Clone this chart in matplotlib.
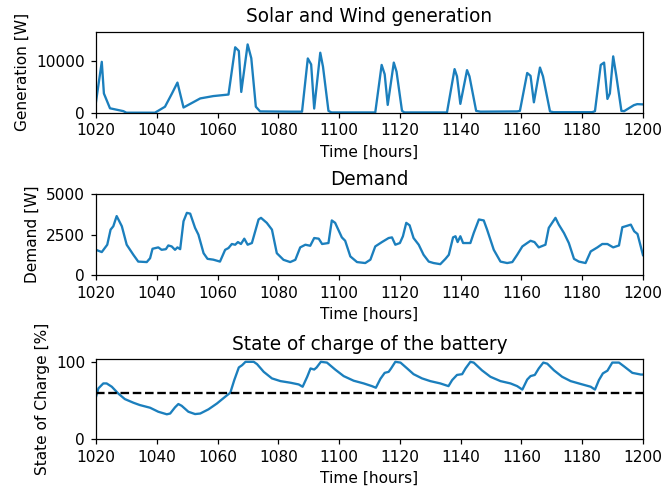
import matplotlib
matplotlib.use("Agg")
import matplotlib.pyplot as plt

line_color = "#1b7fbd"

# Solar + wind generation [W]
gen_hours = [1020, 1021.9, 1022.6, 1024.6, 1029, 1030, 1039.4, 1042.7, 1045, 1046.8,
             1048.8, 1054.3, 1058.6, 1063.6, 1065.8, 1067, 1067.8, 1069.9, 1071.1, 1072.6,
             1074, 1084, 1087.8, 1089.7, 1090.8, 1091.8, 1093.8, 1094.7, 1096.5, 1097.5,
             1111.9, 1114.0, 1115, 1116, 1118, 1118.9, 1120.7, 1121.5, 1135.5, 1138,
             1138.8, 1139.9, 1142.1, 1142.9, 1145.1, 1146.5, 1158.6, 1159.5, 1161.9, 1163,
             1164.1, 1166.1, 1167.1, 1169.4, 1170.5, 1183.3, 1184.2, 1186.1, 1187.2, 1188.3,
             1189.1, 1190.2, 1191.2, 1192.9, 1193.8, 1197, 1198.1, 1200]
gen_values = [2100, 9800, 3700, 850, 300, 0, 0, 1150, 3700, 5800,
              1000, 2750, 3200, 3500, 12600, 11900, 4000, 13150, 10500, 1150,
              250, 200, 200, 10450, 9300, 800, 11550, 8850, 350, 50,
              50, 9200, 7400, 1500, 9650, 7900, 350, 50, 50, 8400,
              7000, 1700, 8200, 7000, 350, 200, 250, 350, 7650, 7100,
              2000, 8700, 7000, 250, 100, 100, 300, 9200, 9650, 2650,
              3700, 10850, 7200, 350, 300, 1450, 1650, 1600]

# Demand [W]
dem_hours = [1020, 1021.9, 1023.7, 1024.8, 1025.7, 1026.8, 1028.5, 1030.1, 1032.3, 1033.9,
             1036.7, 1037.8, 1038.6, 1040.5, 1041.6, 1043, 1043.8, 1044.9, 1046, 1046.8,
             1047.7, 1048.8, 1049.9, 1051, 1052.6, 1053.7, 1055.4, 1056.7, 1058.6, 1060.8,
             1062.5, 1063.6, 1064.7, 1065.8, 1066.7, 1067.7, 1068.8, 1069.9, 1071.3, 1072.4,
             1073.5, 1074.3, 1076.2, 1077.9, 1079.5, 1081.7, 1083.9, 1085.6, 1087.2, 1088.9,
             1090.5, 1091.8, 1093.3, 1094.4, 1096.5, 1097.6, 1098.7, 1100.9, 1102, 1103.7,
             1105.9, 1108.6, 1110.3, 1111.9, 1114.1, 1116.3, 1117.4, 1118.5, 1120, 1121,
             1122.1, 1123.2, 1124.5, 1126.2, 1127.8, 1129.5, 1131.1, 1133.3, 1135, 1136.1,
             1137.5, 1138.3, 1139, 1139.9, 1140.8, 1143.2, 1144.3, 1146, 1147.6, 1148.7,
             1150.9, 1153.1, 1155.3, 1157, 1158.6, 1160.3, 1161.9, 1163, 1164.3, 1165.7,
             1167.9, 1169, 1171.2, 1172.3, 1174, 1175.6, 1177.3, 1178.9, 1181.1, 1182.8,
             1185, 1186.6, 1188.3, 1190.2, 1192.1, 1193.2, 1194.3, 1196, 1197.1, 1198.2,
             1200]
dem_values = [1560, 1420, 1875, 2810, 3020, 3650, 3020, 1875, 1250, 830,
              800, 1040, 1625, 1710, 1560, 1600, 1830, 1770, 1560, 1710,
              1600, 3330, 3850, 3800, 2920, 2500, 1350, 1000, 950, 830,
              1560, 1670, 1920, 1875, 2040, 1920, 2250, 1875, 1980, 2710,
              3440, 3540, 3230, 2810, 1350, 940, 800, 940, 1710, 1875,
              1810, 2290, 2250, 1920, 1980, 3380, 3230, 2330, 2120, 1150,
              800, 740, 950, 1770, 2040, 2290, 2330, 1875, 1980, 2400,
              3230, 3080, 2290, 1875, 1250, 830, 740, 670, 1000, 1250,
              2330, 2400, 2040, 2400, 1980, 1980, 2600, 3440, 3380, 2810,
              1560, 830, 740, 800, 1250, 1770, 1980, 2120, 2040, 1710,
              1875, 2920, 3540, 3120, 2600, 1980, 1000, 830, 740, 1460,
              1710, 1920, 1920, 1710, 1830, 2960, 3020, 3120, 2710, 2540,
              1230]

# Battery state of charge [%]
soc_hours = [1020, 1020.8, 1022.4, 1023.5, 1025.2, 1027.3, 1029.5, 1032.3, 1034.4, 1037.8,
             1040.5, 1043.3, 1044.4, 1046, 1047.1, 1048.2, 1050.4, 1052.6, 1054.3, 1057,
             1059.8, 1062.5, 1064.2, 1065.5, 1067, 1068.1, 1069.2, 1071.9, 1073, 1075.2,
             1077.9, 1080.7, 1084, 1086.7, 1088, 1089.5, 1090.6, 1091.8, 1092.6, 1094,
             1096, 1098.7, 1101.5, 1104.8, 1108.1, 1110.8, 1112.1, 1113.6, 1115, 1116.3,
             1117.1, 1118.5, 1120.2, 1122.4, 1124.5, 1127.3, 1130, 1133.3, 1136, 1137.2,
             1138.8, 1140.5, 1141.6, 1143.2, 1144.3, 1147, 1149.8, 1153.1, 1156.4, 1158.6,
             1160.3, 1161.9, 1163, 1164.4, 1165.7, 1167.2, 1168.5, 1170.7, 1173.4, 1176.2,
             1179.5, 1182.8, 1184.2, 1185.5, 1186.8, 1188.3, 1189.9, 1192.1, 1193.8, 1196.5,
             1199.3, 1200]
soc_values = [54.7, 65.6, 72, 72, 67.7, 59, 51.7, 47, 44, 40.5,
              35.3, 32, 33, 41, 45.3, 43, 35.3, 32.3, 33, 38.4,
              46, 54.7, 60, 76.3, 92.7, 95.7, 100, 100, 97, 87,
              78.5, 75, 72.9, 70.7, 67.7, 80.6, 91.4, 90, 92.7, 100,
              99, 90, 81.5, 75.5, 72, 68.5, 66.4, 78, 85.7, 87,
              91.4, 100, 99, 91.4, 84, 78.5, 75, 72, 68.5, 76.3,
              83, 84, 91.4, 100, 99, 89, 80.6, 75, 72, 68.5,
              64, 77, 81.5, 83, 91.4, 99, 97.6, 89, 80.6, 75,
              71.3, 67.7, 64, 76.3, 85, 88.5, 99, 99, 94, 85.7,
              83.5, 83.5]
soc_ref = 60

dpi = 111
fig = plt.figure(figsize=(663 / dpi, 490 / dpi), dpi=dpi)
left, width = 0.1448, 0.825

ax1 = fig.add_axes([left, 0.770, width, 0.1653])
ax1.plot(gen_hours, gen_values, color=line_color, lw=1.5)
ax1.set_xlim(1020, 1200)
ax1.set_ylim(0, 15600)
ax1.set_yticks([0, 10000])
ax1.set_title("Solar and Wind generation")
ax1.set_ylabel("Generation [W]")
ax1.set_xlabel("Time [hours]")

ax2 = fig.add_axes([left, 0.4388, width, 0.1647])
ax2.plot(dem_hours, dem_values, color=line_color, lw=1.5)
ax2.set_xlim(1020, 1200)
ax2.set_ylim(0, 5000)
ax2.set_yticks([0, 2500, 5000])
ax2.set_title("Demand")
ax2.set_ylabel("Demand [W]")
ax2.set_xlabel("Time [hours]")

ax3 = fig.add_axes([left, 0.1041, width, 0.1627])
ax3.plot(soc_hours, soc_values, color=line_color, lw=1.5)
ax3.plot([1020, 1200], [soc_ref, soc_ref], "k--", lw=1.5)
ax3.set_xlim(1020, 1200)
ax3.set_ylim(0, 103.3)
ax3.set_yticks([0, 100])
ax3.set_title("State of charge of the battery")
ax3.set_ylabel("State of Charge [%]")
ax3.set_xlabel("Time [hours]")

fig.savefig("out.png", dpi=dpi)
